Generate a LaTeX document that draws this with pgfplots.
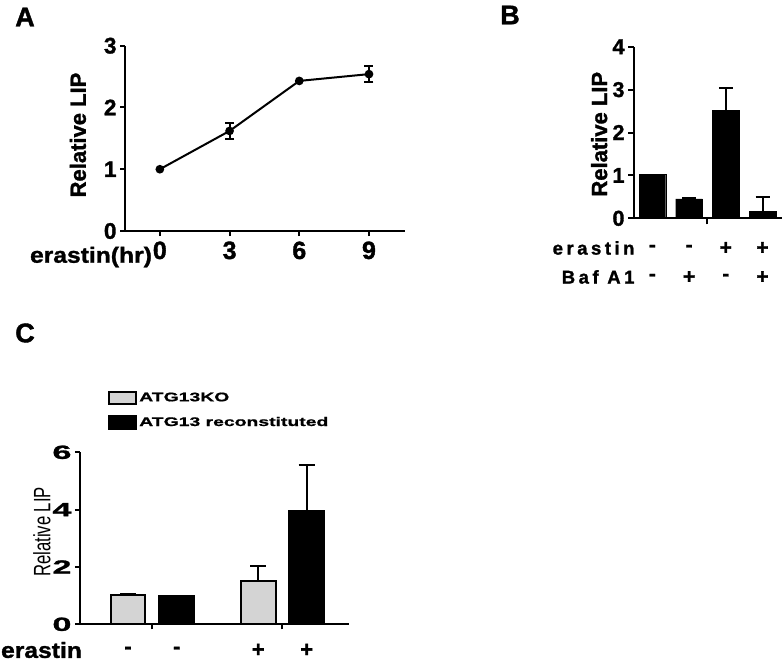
\documentclass[border=0pt]{standalone}
\usepackage{pgfplots}
\pgfplotsset{compat=1.18}
\usepackage{fontspec}
\usepackage{graphicx}
\setmainfont{Liberation Sans}[BoldFeatures={FakeBold=1.4}]
\newfontfamily\Cwide{Liberation Sans}[FakeStretch=1.8, BoldFeatures={FakeBold=1.4}]
\newfontfamily\Lwide{Liberation Sans}[FakeStretch=1.55, BoldFeatures={FakeBold=0.9}]
\newfontfamily\Ewide{Liberation Sans}[FakeStretch=1.12, BoldFeatures={FakeBold=1.4}]
\newfontfamily\Bspaced{Liberation Sans Bold}[LetterSpace=19, FakeBold=1.4]
\definecolor{ltgray}{RGB}{212,212,212}
\pgfplotsset{gp/.style={scale only axis, axis lines*=left,
  axis line style={line width=2pt},
  tick style={line width=2pt, black},
  tick align=outside, major tick length=6pt,
  /pgf/number format/assume math mode=true, clip=false},
  eb/.style={error bars/.cd, y explicit, y dir=#1,
  error bar style={line width=2pt, black}, error mark=|}}
\begin{document}
\begin{tikzpicture}[x=1pt,y=1pt]
\useasboundingbox (0,0) rectangle (784,-666);
% panel labels
\node[font=\bfseries\fontsize{27}{27}\selectfont] at (25,-17) {A};
\node[font=\bfseries\fontsize{27}{27}\selectfont] at (510,-15) {B};
\node[font=\bfseries\fontsize{27}{27}\selectfont] at (25,-333) {C};

% ---------- Panel A ----------
\begin{axis}[gp, at={(125pt,-231pt)}, anchor=south west,
  width=280pt, height=185.3pt,
  xmin=-1.5, xmax=10.55, ymin=0, ymax=3,
  xtick={0,3,6,9}, ytick={0,1,2,3}, major tick length=5pt,
  yticklabel style={font=\bfseries\fontsize{22.5}{22.5}\selectfont},
  xticklabel style={font=\bfseries\fontsize{25}{25}\selectfont, yshift=-2pt},
  ylabel={Relative LIP},
  ylabel style={font=\bfseries\fontsize{22}{22}\selectfont, at={(axis description cs:-0.168,0.518)}, anchor=center}]
\addplot[black, line width=2pt, mark=*, mark size=3.3pt] coordinates {(0,1) (3,1.62) (6,2.43) (9,2.54)};
\addplot[black, only marks, mark=*, mark size=3.3pt, eb=both,
  error mark options={line width=2pt, mark size=4.5pt, black}]
  coordinates {(3,1.62) +- (0,0.13) (9,2.54) +- (0,0.13)};
\end{axis}
\node[font=\Ewide\bfseries\fontsize{22}{22}\selectfont] at (91,-257) {erastin(hr)};

% ---------- Panel B ----------
\begin{axis}[gp, at={(634pt,-218.3pt)}, anchor=south west,
  width=148pt, height=171.6pt,
  xmin=-0.5, xmax=3.53, ymin=0, ymax=4,
  ytick={0,1,2,3,4}, xtick={1.5}, xticklabels={},
  yticklabel style={font=\bfseries\fontsize{21.5}{21.5}\selectfont},
  ylabel={Relative LIP},
  ylabel style={font=\bfseries\fontsize{22}{22}\selectfont, at={(axis description cs:-0.235,0.49)}, anchor=center}]
\addplot[ybar, bar width=0.727, bar shift=0pt, fill=black, draw=black, eb=plus,
  error mark options={line width=2pt, mark size=7pt, black}]
  coordinates {(0,1.02) +- (0,0) (1,0.45) +- (0,0.02) (2,2.52) +- (0,0.52) (3,0.16) +- (0,0.34)};
\foreach \xx/\sa/\sb in {0/-/-,1/-/+,2/+/-,3/+/+}{
  \edef\tmp{\noexpand\node[font=\noexpand\bfseries\noexpand\fontsize{21}{21}\noexpand\selectfont] at (axis cs:\xx,0) [yshift=-30pt] {\sa};
  \noexpand\node[font=\noexpand\bfseries\noexpand\fontsize{21}{21}\noexpand\selectfont] at (axis cs:\xx,0) [yshift=-59pt] {\sb};}
  \tmp
}
\end{axis}
\node[anchor=east, font=\Bspaced\fontsize{18.5}{18.5}\selectfont] at (638,-248) {erastin};
\node[anchor=east, font=\Bspaced\fontsize{18.5}{18.5}\selectfont] at (638,-277) {Baf A1};

% ---------- Panel C ----------
\begin{axis}[gp, at={(80pt,-624.3pt)}, anchor=south west,
  width=269pt, height=172pt,
  xmin=0, xmax=5.524, ymin=0, ymax=6,
  ytick={0,2,4,6}, xtick={1.486,4.158}, xticklabels={,}, major tick length=5pt,
  yticklabel style={font=\Cwide\bfseries\fontsize{19}{19}\selectfont},
  ylabel={\scalebox{1}[1.42]{Relative LIP}},
  ylabel style={font=\fontsize{16.7}{16.7}\selectfont, at={(axis description cs:-0.142,0.537)}, anchor=center},
  legend style={at={(axis description cs:0.105,1.36)}, anchor=north west, draw=none, fill=none, inner sep=0pt,
    row sep=10pt, font=\Lwide\bfseries\fontsize{12.5}{12.5}\selectfont,
    /tikz/every even column/.append style={column sep=9pt}},
  legend cell align=left]
\addplot[ybar, bar width=0.713, bar shift=0pt, fill=ltgray, draw=black, line width=1.8pt,
  legend image code/.code={\draw[line width=1.8pt, draw=black, fill=ltgray] (0pt,-6pt) rectangle (27pt,6pt);},
  eb=plus, error mark options={line width=2pt, mark size=8pt, black}]
  coordinates {(0.986,1.02) +- (0,0.03) (3.661,1.51) +- (0,0.52)};
\addlegendentry{ATG13KO}
\addplot[ybar, bar width=0.713, bar shift=0pt, fill=black, draw=black, line width=1.8pt,
  legend image code/.code={\draw[line width=1.8pt, draw=black, fill=black] (0pt,-6.5pt) rectangle (27pt,6.5pt);},
  eb=plus, error mark options={line width=2pt, mark size=8pt, black}]
  coordinates {(1.986,1.0) +- (0,0) (4.655,3.95) +- (0,1.61)};
\addlegendentry{ATG13 reconstituted}
\foreach \xx/\sa in {0.986/-,1.986/-,3.661/+,4.655/+}{
  \edef\tmp{\noexpand\node[font=\noexpand\bfseries\noexpand\fontsize{22}{22}\noexpand\selectfont] at (axis cs:\xx,0) [yshift=-26pt] {\sa};}
  \tmp
}
\end{axis}
\node[font=\Ewide\bfseries\fontsize{22}{22}\selectfont] at (41.5,-650) {erastin};
\end{tikzpicture}
\end{document}
